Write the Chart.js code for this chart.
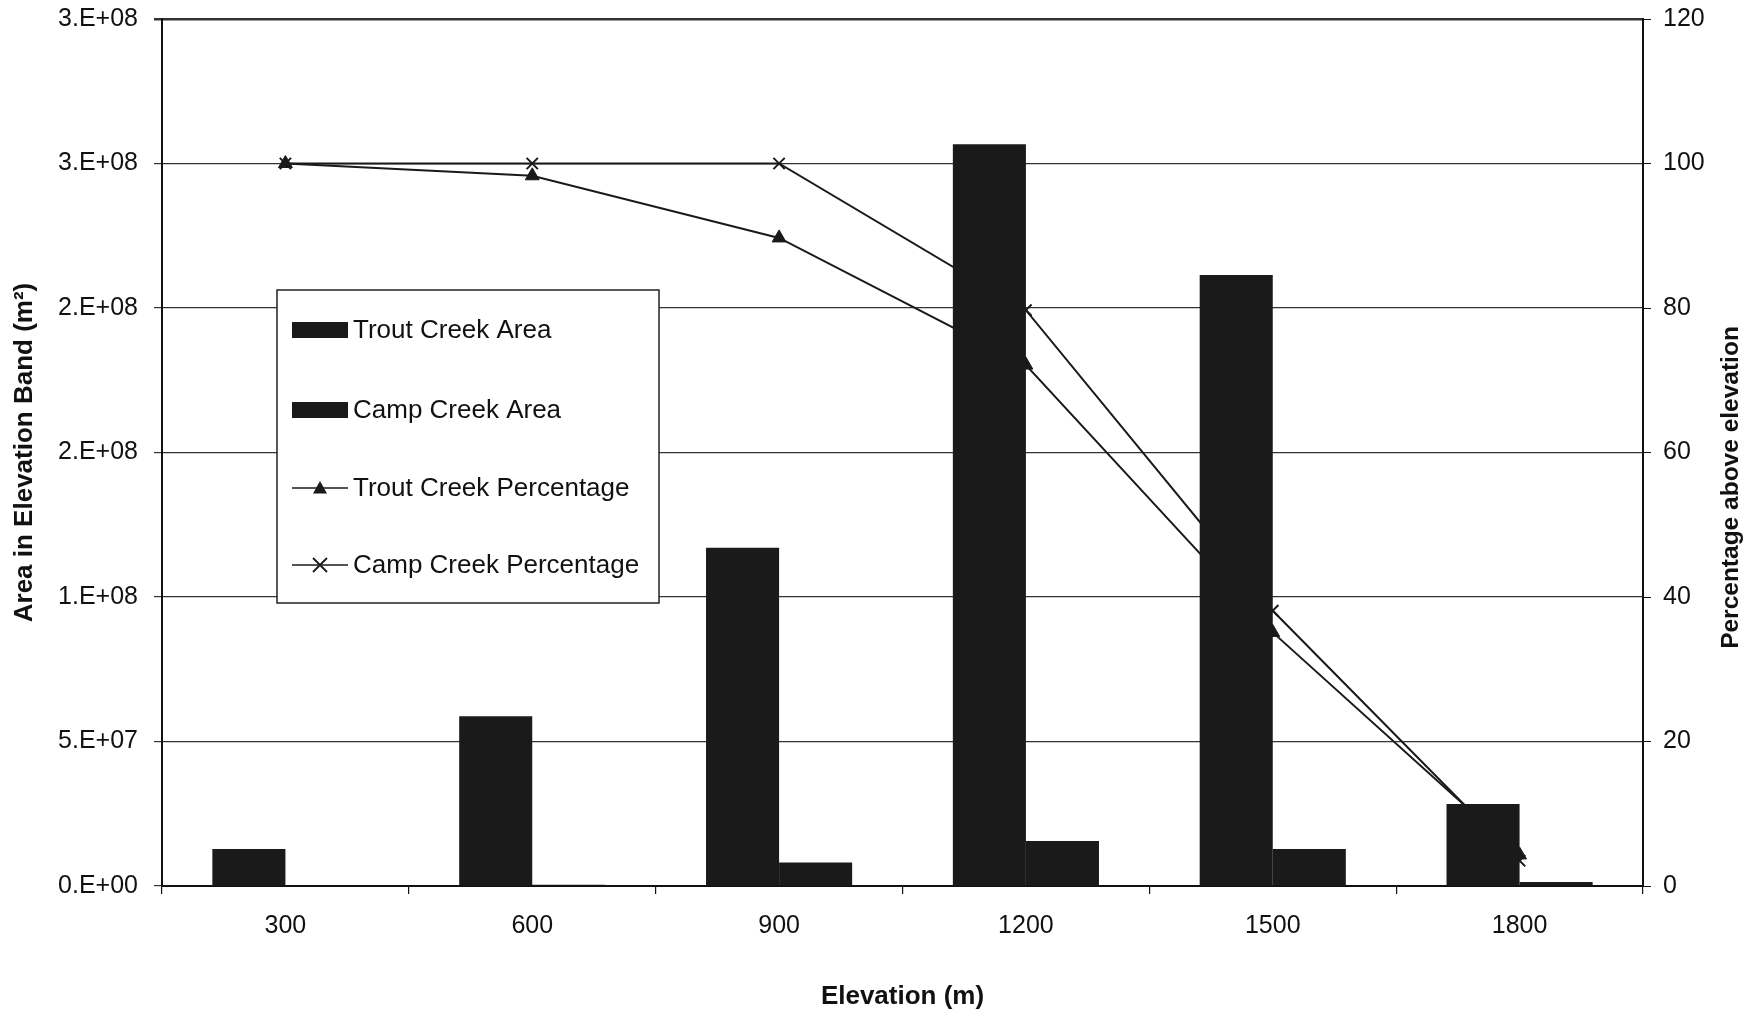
<!DOCTYPE html>
<html>
<head>
<meta charset="utf-8">
<script src="https://cdn.jsdelivr.net/npm/chart.js@4.4.1/dist/chart.umd.min.js"></script>
<style>
  body { margin: 0; background: #fff; }
  #wrap { width: 1761px; height: 1015px; }
</style>
</head>
<body>
<div id="wrap"><canvas id="myChart" width="1761" height="1015"></canvas></div>
<script>
// elevation bands (m)
var elevations = ['300', '600', '900', '1200', '1500', '1800'];

// area in each band (m2)
var troutArea = [1.28e7, 5.87e7, 1.17e8, 2.567e8, 2.114e8, 2.84e7];
var campArea  = [3e5, 4e5, 8.1e6, 1.56e7, 1.28e7, 1.4e6];

// percentage of basin above elevation
var troutPct = [100, 98.3, 89.7, 72.1, 35.1, 4.3];
var campPct  = [100, 100, 100, 79.7, 38.1, 3.5];

var legendNames = ['Trout Creek Area', 'Camp Creek Area', 'Trout Creek Percentage', 'Camp Creek Percentage'];

var fontFam = '"Liberation Sans", Arial, sans-serif';

// excel style "0.E+00"
function sci(v) {
  if (v === 0) return '0.E+00';
  var s = v.toExponential(0).split('e');
  var ex = parseInt(s[1], 10);
  return s[0] + '.E' + (ex < 0 ? '-' : '+') + String(Math.abs(ex)).padStart(2, '0');
}

function drawTri(ctx, x, y, r) {
  ctx.beginPath();
  ctx.moveTo(x, y - r);
  ctx.lineTo(x + r, y + r * 0.8);
  ctx.lineTo(x - r, y + r * 0.8);
  ctx.closePath();
  ctx.fill();
}
function drawX(ctx, x, y, r) {
  ctx.beginPath();
  ctx.moveTo(x - r, y - r); ctx.lineTo(x + r, y + r);
  ctx.moveTo(x + r, y - r); ctx.lineTo(x - r, y + r);
  ctx.stroke();
}

// legend box sits inside the plot, like the original
var boxLegend = {
  id: 'boxLegend',
  afterDraw: function(chart) {
    var ctx = chart.ctx;
    var bx = 277, by = 290, bw = 382, bh = 313;
    ctx.save();
    ctx.fillStyle = '#fff';
    ctx.fillRect(bx, by, bw, bh);
    ctx.strokeStyle = '#222';
    ctx.lineWidth = 1.5;
    ctx.strokeRect(bx, by, bw, bh);
    var ys = [330, 410, 488, 565];
    ctx.font = '26px ' + fontFam;
    ctx.textBaseline = 'middle';
    for (var i = 0; i < 4; i++) {
      var y = ys[i];
      ctx.fillStyle = '#1a1a1a';
      ctx.strokeStyle = '#1a1a1a';
      if (i < 2) {
        ctx.fillRect(292, y - 8, 56, 16);
      } else {
        ctx.lineWidth = 1.5;
        ctx.beginPath();
        ctx.moveTo(292, y); ctx.lineTo(348, y);
        ctx.stroke();
        if (i === 2) drawTri(ctx, 320, y, 7);
        else { ctx.lineWidth = 1.8; drawX(ctx, 320, y, 7); }
      }
      ctx.fillStyle = '#111';
      ctx.fillText(legendNames[i], 353, y + 1);
    }
    ctx.restore();
  }
};

// right axis title reads bottom to top, sits a bit below the middle
var rightTitle = {
  id: 'rightTitle',
  afterDraw: function(chart) {
    var ctx = chart.ctx;
    ctx.save();
    ctx.translate(1731, (chart.chartArea.top + chart.chartArea.bottom) / 2 + 35);
    ctx.rotate(-Math.PI / 2);
    ctx.font = 'bold 24.5px ' + fontFam;
    ctx.fillStyle = '#111';
    ctx.textAlign = 'center';
    ctx.textBaseline = 'middle';
    ctx.fillText('Percentage above elevation', 0, 0);
    ctx.restore();
  }
};

// keep tick label overhang from pushing the plot area in
function fixVert(w) {
  return function(s) {
    s.width = w;
    s.paddingTop = 0;
    s.paddingBottom = 0;
  };
}

var ctx = document.getElementById('myChart').getContext('2d');
var myChart = new Chart(ctx, {
  type: 'bar',
  data: {
    labels: elevations,
    datasets: [{
      label: legendNames[0],
      data: troutArea,
      backgroundColor: '#1a1a1a',
      yAxisID: 'y',
      order: 0,
      categoryPercentage: 0.592,
      barPercentage: 1.0
    }, {
      label: legendNames[1],
      data: campArea,
      backgroundColor: '#1a1a1a',
      yAxisID: 'y',
      order: 0,
      categoryPercentage: 0.592,
      barPercentage: 1.0
    }, {
      type: 'line',
      label: legendNames[2],
      data: troutPct,
      yAxisID: 'y1',
      borderColor: '#1a1a1a',
      borderWidth: 2,
      backgroundColor: '#1a1a1a',
      pointStyle: 'triangle',
      pointRadius: 8,
      pointBorderWidth: 1,
      order: 1,
      fill: false
    }, {
      type: 'line',
      label: legendNames[3],
      data: campPct,
      yAxisID: 'y1',
      borderColor: '#1a1a1a',
      borderWidth: 2,
      backgroundColor: '#1a1a1a',
      pointStyle: 'crossRot',
      pointRadius: 8,
      pointBorderWidth: 2,
      order: 1,
      fill: false
    }]
  },
  options: {
    responsive: false,
    animation: false,
    devicePixelRatio: 1,
    layout: { padding: { top: 19, left: 0, right: 0, bottom: 0 } },
    plugins: {
      legend: { display: false },
      tooltip: { enabled: false }
    },
    scales: {
      x: {
        type: 'category',
        offset: true,
        grid: {
          offset: true,
          drawOnChartArea: false,
          drawTicks: true,
          tickLength: 8,
          color: '#111',
          lineWidth: 1.2
        },
        border: { display: true, color: '#111', width: 2 },
        ticks: {
          color: '#111',
          padding: 17,
          font: { family: fontFam, size: 25 }
        },
        title: {
          display: true,
          text: 'Elevation (m)',
          color: '#111',
          font: { family: fontFam, size: 26, weight: 'bold' },
          padding: { top: 0, bottom: 3 }
        },
        afterFit: function(s) { s.height = 129; }
      },
      y: {
        position: 'left',
        min: 0,
        max: 3e8,
        ticks: {
          stepSize: 5e7,
          color: '#111',
          padding: 16,
          font: { family: fontFam, size: 25 },
          callback: function(v) { return sci(v); }
        },
        grid: {
          color: '#333',
          lineWidth: function(c) { return c.tick && c.tick.value === 3e8 ? 2.5 : 1.2; },
          tickLength: 8
        },
        border: { display: true, color: '#111', width: 2 },
        title: {
          display: true,
          text: 'Area in Elevation Band (m²)',
          color: '#111',
          font: { family: fontFam, size: 26, weight: 'bold' },
          padding: { top: 9, bottom: 0 }
        },
        afterFit: fixVert(162)
      },
      y1: {
        position: 'right',
        min: 0,
        max: 120,
        ticks: {
          stepSize: 20,
          color: '#111',
          padding: 12,
          font: { family: fontFam, size: 25 }
        },
        grid: {
          drawOnChartArea: false,
          color: '#111',
          tickLength: 8
        },
        border: { display: true, color: '#111', width: 2 },
        afterFit: fixVert(118)
      }
    }
  },
  plugins: [boxLegend, rightTitle]
});
</script>
</body>
</html>
